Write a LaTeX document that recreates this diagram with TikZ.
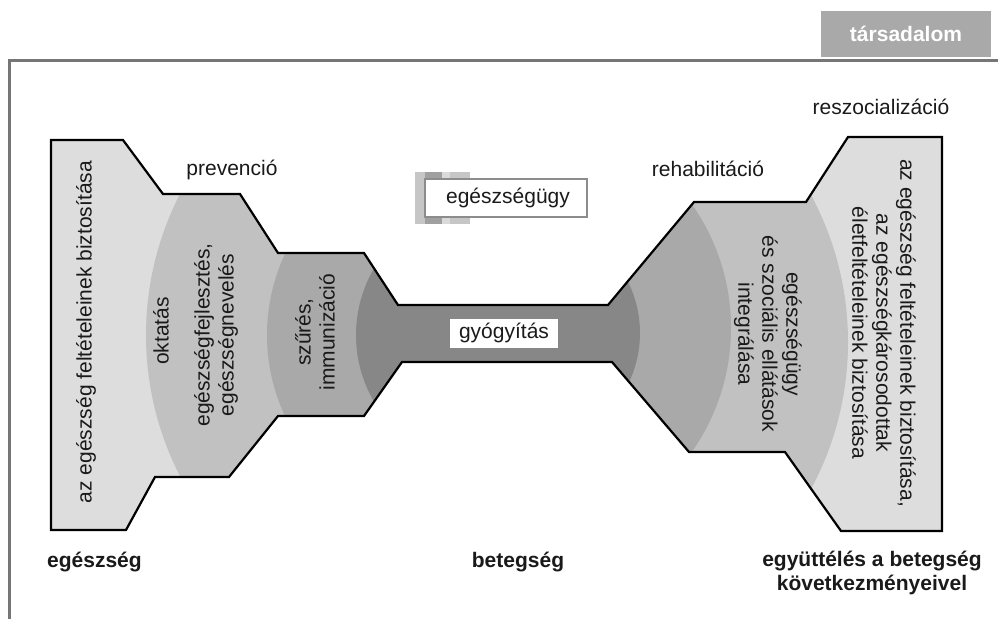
\documentclass[tikz,border=0pt]{standalone}
\usepackage{fontspec}
\setmainfont{Liberation Sans}
\definecolor{lightg}{HTML}{DDDDDD}
\definecolor{midg}{HTML}{C1C1C1}
\definecolor{darkg}{HTML}{A9A9A9}
\definecolor{neckg}{HTML}{878787}
\definecolor{framec}{HTML}{767676}
\definecolor{boxg}{HTML}{A9A9A9}
\definecolor{txtc}{HTML}{1A1A1A}
\definecolor{stripa}{HTML}{C6C6C6}
\definecolor{stripb}{HTML}{A0A0A0}
\definecolor{stripc}{HTML}{DADADA}
\definecolor{boxborder}{HTML}{8C8C8C}
\begin{document}
\begin{tikzpicture}[x=1pt,y=-1pt,
  lbl/.style={font=\fontsize{21}{24}\selectfont, text=txtc, inner sep=0pt},
  blbl/.style={font=\fontsize{21}{24}\selectfont\bfseries, text=txtc, inner sep=0pt},
  vtxt/.style={lbl, align=center},
  outl/.style={draw=black, line width=2.2pt, line join=miter},
]
\useasboundingbox (0,0) rectangle (998,619);
\fill[white] (0,0) rectangle (998,619);

% frame
\draw[framec, line width=3pt] (998,60) -- (9,60) -- (9,619);
\node[fill=boxg, minimum width=170pt, minimum height=46pt, inner sep=0pt,
      text=white, font=\fontsize{21}{24}\selectfont\bfseries] (soc) at (906,34) {társadalom};

% base shape
\fill[lightg] (51,140) -- (123,140) -- (163,194) -- (240,194) -- (278,253) -- (364,253) -- (398,305) -- (608,305) -- (694,202) -- (806,202) -- (848,137) -- (942,137) -- (942,531) -- (841,531) -- (785,452) -- (689,452) -- (612,362) -- (402,362) -- (364,416) -- (278,416) -- (229,477) -- (155,477) -- (126,530) -- (51,530) -- cycle;

% left bands
\begin{scope}
  \clip (51,140) -- (123,140) -- (163,194) -- (240,194) -- (278,253) -- (364,253) -- (398,305) -- (608,305) -- (694,202) -- (806,202) -- (848,137) -- (942,137) -- (942,531) -- (841,531) -- (785,452) -- (689,452) -- (612,362) -- (402,362) -- (364,416) -- (278,416) -- (229,477) -- (155,477) -- (126,530) -- (51,530) -- cycle;
  \clip (0,0) rectangle (505,619);
  \fill[midg] (455,335) circle[radius=309pt];
  \fill[darkg] (458,335) circle[radius=191pt];
  \fill[neckg] (488,335) circle[radius=132pt];
\end{scope}
% right bands
\begin{scope}
  \clip (51,140) -- (123,140) -- (163,194) -- (240,194) -- (278,253) -- (364,253) -- (398,305) -- (608,305) -- (694,202) -- (806,202) -- (848,137) -- (942,137) -- (942,531) -- (841,531) -- (785,452) -- (689,452) -- (612,362) -- (402,362) -- (364,416) -- (278,416) -- (229,477) -- (155,477) -- (126,530) -- (51,530) -- cycle;
  \clip (505,0) rectangle (998,619);
  \fill[midg] (538,342) circle[radius=310pt];
  \fill[darkg] (516,328) circle[radius=215pt];
  \fill[neckg] (525,333) circle[radius=115pt];
\end{scope}

% outline
\draw[outl] (51,140) -- (123,140) -- (163,194) -- (240,194) -- (278,253) -- (364,253) -- (398,305) -- (608,305) -- (694,202) -- (806,202) -- (848,137) -- (942,137) -- (942,531) -- (841,531) -- (785,452) -- (689,452) -- (612,362) -- (402,362) -- (364,416) -- (278,416) -- (229,477) -- (155,477) -- (126,530) -- (51,530) -- cycle;

% egeszsegugy legend box
\fill[stripa] (415,172) rectangle (425,224);
\fill[stripb] (425,172) rectangle (442,224);
\fill[stripc] (442,172) rectangle (450,224);
\fill[stripa] (450,172) rectangle (470,224);
\node[fill=white, draw=boxborder, line width=1.5pt, minimum width=162pt, minimum height=38pt, inner sep=0pt] (eu) at (506,198) {};
\node[lbl] (eut) at (508,198) {egészségügy};

% gyogyitas
\node[fill=white, minimum width=108pt, minimum height=29pt, inner sep=0pt] (gy) at (504,333) {};
\node[lbl] (gyt) at (504,333) {gyógyítás};

% phase labels
\node[lbl] (prev) at (232,170) {prevenció};
\node[lbl] (rehab) at (708,169) {rehabilitáció};
\node[lbl] (resz) at (881,107) {reszocializáció};

% bottom labels
\node[blbl, anchor=west] (eg) at (47,562) {egészség};
\node[blbl] (bet) at (518,562) {betegség};
\node[blbl, align=center] (egy) at (872,573) {együttélés a betegség\\következményeivel};

% rotated texts
\node[vtxt, rotate=90] (l1) at (86,332) {az egészség feltételeinek biztosítása};
\node[vtxt, rotate=90] (l2) at (161,331) {oktatás};
\node[vtxt, rotate=90] (l3) at (216,335) {egészségfejlesztés,\\egészségnevelés};
\node[vtxt, rotate=90] (l4) at (315,332) {szűrés,\\immunizáció};
\node[vtxt, rotate=-90] (r1) at (768,334) {egészségügy\\és szociális ellátások\\integrálása};
\node[vtxt, rotate=-90] (r2) at (884,333) {az egészség feltételeinek biztosítása,\\az egészségkárosodottak\\életfeltételeinek biztosítása};
\end{tikzpicture}
\end{document}
